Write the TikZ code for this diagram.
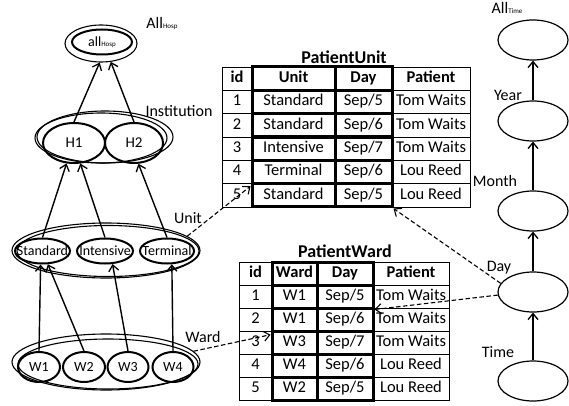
\documentclass[tikz,border=0pt]{standalone}
\usepackage{fontspec}
\setmainfont{Carlito}
\usetikzlibrary{shapes.geometric,arrows.meta}
\begin{document}
\begin{tikzpicture}[x=1pt,y=-1pt,
  el/.style={draw, ellipse, inner sep=0pt, line width=2pt},
  outer/.style={draw, ellipse, inner sep=0pt, line width=1.1pt},
  tel/.style={draw, ellipse, inner sep=0pt, line width=1.2pt, minimum width=70pt, minimum height=40pt},
  lbl/.style={font=\fontsize{16}{16}\selectfont, inner sep=0pt},
  etext/.style={font=\fontsize{14}{14}\selectfont, inner sep=0pt},
  arr/.style={line width=1.4pt, -{Straight Barb[length=6pt,width=10pt,line width=1.3pt]}},
  darr/.style={line width=1.1pt, dash pattern=on 4.5pt off 2.5pt, -{Straight Barb[length=6pt,width=10pt,line width=1.1pt]}},
  cell/.style={draw, line width=0.7pt, inner sep=0pt, text height=11.5pt, text depth=3.5pt, font=\fontsize{16.5}{16.5}\selectfont},
  tcell/.style={draw, line width=3pt, inner sep=0pt, text height=11.5pt, text depth=3.5pt, font=\fontsize{16.5}{16.5}\selectfont},
  ttl/.style={font=\bfseries\fontsize{18}{18}\selectfont, inner sep=0pt}
]
\useasboundingbox (0,0) rectangle (569,406);

% ---------- Hospital hierarchy ----------
\node[outer, minimum width=72pt, minimum height=37pt] (allO) at (101,43.5) {};
\node[el, minimum width=60pt, minimum height=25pt,
      label={[etext]center:all{\fontsize{7}{7}\selectfont Hosp}}] (allI) at (102,42) {};
\node[lbl] (lAllH) at (162,24) {All{\fontsize{7}{7}\selectfont Hosp}};

\node[outer, minimum width=132pt, minimum height=50pt] (instO2) at (101,138) {};
\node[outer, minimum width=136pt, minimum height=52pt] (instO) at (105,137) {};
\node[el, minimum width=62pt, minimum height=40pt,
      label={[etext, font=\fontsize{15}{15}\selectfont]center:H1}] (H1) at (74,143) {};
\node[el, minimum width=58pt, minimum height=40pt,
      label={[etext, font=\fontsize{15}{15}\selectfont]center:H2}] (H2) at (134,143) {};
\node[lbl] (lInst) at (179,111) {Institution};

\node[outer, minimum width=188pt, minimum height=55pt] (unitO) at (106,250.5) {};
\node[outer, minimum width=182pt, minimum height=51pt] (unitO2) at (108,251) {};
\node[el, minimum width=55pt, minimum height=25pt,
      label={[etext]center:Standard}] (Std) at (42.5,251) {};
\node[el, minimum width=56pt, minimum height=25pt,
      label={[etext]center:Intensive}] (Int) at (105,251) {};
\node[el, minimum width=54pt, minimum height=25pt,
      label={[etext]center:Terminal}] (Ter) at (167,251) {};
\node[lbl] (lUnit) at (188,218) {Unit};

\node[outer, minimum width=188pt, minimum height=56pt] (wardO) at (106,362) {};
\node[outer, minimum width=180pt, minimum height=50pt] (wardO2) at (108,364) {};
\node[el, minimum width=42pt, minimum height=30pt, label={[etext]center:W1}] (W1) at (39,367) {};
\node[el, minimum width=42pt, minimum height=30pt, label={[etext]center:W2}] (W2) at (84,367) {};
\node[el, minimum width=41pt, minimum height=30pt, label={[etext]center:W3}] (W3) at (128,367) {};
\node[el, minimum width=41pt, minimum height=30pt, label={[etext]center:W4}] (W4) at (173,367) {};
\node[lbl] (lWard) at (203,337) {Ward};

\draw[arr] (H1.north) -- (allO.266);
\draw[arr] (H2.north) -- (allO.298);
\draw[arr] (Std.north) -- (H1.250);
\draw[arr] (Int.north) -- (H1.287);
\draw[arr] (Ter.north) -- (H2.282);
\draw[arr] (W1.north) -- (Std.262);
\draw[arr] (W2.north) -- (Std.292);
\draw[arr] (W3.north) -- (Int.300);
\draw[arr] (W4.north) -- (Ter.290);

% ---------- Time hierarchy ----------
\node[tel] (tAll) at (533,40) {};
\node[tel] (tYear) at (533,121) {};
\node[tel] (tMonth) at (533,211) {};
\node[tel] (tDay) at (533,292) {};
\node[tel] (tTime) at (533,381) {};
\node[lbl] (lAllT) at (507,8) {All{\fontsize{7}{7}\selectfont Time}};
\node[lbl] (lYear) at (508,95) {Year};
\node[lbl] (lMonth) at (495,181) {Month};
\node[lbl] (lDay) at (499,268) {Day};
\node[lbl] (lTime) at (498,352) {Time};
\draw[arr] (tYear.north) -- (tAll.south);
\draw[arr] (tMonth.north) -- (tYear.south);
\draw[arr] (tDay.north) -- (tMonth.south);
\draw[arr] (tTime.north) -- (tDay.south);

% ---------- Table PatientUnit ----------
\node[ttl] (tPU) at (344,57) {PatientUnit};
\foreach \r/\a/\d in {0/\textbf{id}/\textbf{Patient}, 1/1/Tom Waits, 2/2/Tom Waits,
    3/3/Tom Waits, 4/4/Lou Reed, 5/5/Lou Reed}{
  \pgfmathsetmacro\yy{67+23.333*(\r+0.5)}
  \node[cell, minimum width=30pt, minimum height=23.33pt] (pu-\r-1) at (237,\yy) {\a};
  \node[cell, minimum width=78pt, minimum height=23.33pt] (pu-\r-4) at (431,\yy) {\d};
}
\foreach \r/\b/\c in {0/\textbf{Unit}/\textbf{Day}, 1/Standard/Sep\slash5, 2/Standard/Sep\slash6,
    3/Intensive/Sep\slash7, 4/Terminal/Sep\slash6, 5/Standard/Sep\slash5}{
  \pgfmathsetmacro\yy{67+23.333*(\r+0.5)}
  \node[tcell, minimum width=83pt, minimum height=23.33pt] (pu-\r-2) at (293.5,\yy) {\b};
  \node[tcell, minimum width=57pt, minimum height=23.33pt] (pu-\r-3) at (363.5,\yy) {\c};
}

% ---------- Table PatientWard ----------
\node[ttl] (tPW) at (345,251) {PatientWard};
\foreach \r/\a/\d in {0/\textbf{id}/\textbf{Patient}, 1/1/Tom Waits, 2/2/Tom Waits,
    3/3/Tom Waits, 4/4/Lou Reed, 5/5/Lou Reed}{
  \pgfmathsetmacro\yy{262+23*(\r+0.5)}
  \node[cell, minimum width=33pt, minimum height=23pt] (pw-\r-1) at (255.5,\yy) {\a};
  \node[cell, minimum width=76pt, minimum height=23pt] (pw-\r-4) at (411,\yy) {\d};
}
\foreach \r/\b/\c in {0/\textbf{Ward}/\textbf{Day}, 1/W1/Sep\slash5, 2/W1/Sep\slash6,
    3/W3/Sep\slash7, 4/W4/Sep\slash6, 5/W2/Sep\slash5}{
  \pgfmathsetmacro\yy{262+23*(\r+0.5)}
  \node[tcell, minimum width=45pt, minimum height=23pt] (pw-\r-2) at (294.5,\yy) {\b};
  \node[tcell, minimum width=56pt, minimum height=23pt] (pw-\r-3) at (345,\yy) {\c};
}

% ---------- dashed links ----------
\draw[darr] (unitO.10) -- (pu-5-2.168);
\draw[darr] (wardO.7) -- (pw-3-2.162);
\draw[darr] (tDay.165) -- (pu-5-3.south east);
\draw[darr] (tDay.185) -- (pw-1-3.south east);
\end{tikzpicture}
\end{document}
